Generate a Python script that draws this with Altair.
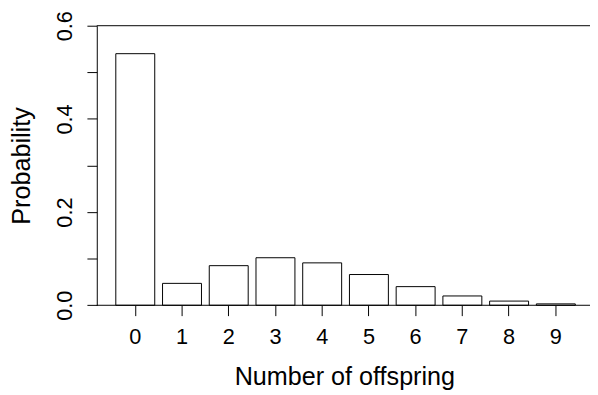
import altair as alt
import pandas as pd

offspring = ["0", "1", "2", "3", "4", "5", "6", "7", "8", "9"]
probability = [0.540, 0.047, 0.085, 0.102, 0.091, 0.066, 0.040, 0.020, 0.009, 0.003]
y_ticks = [0.0, 0.1, 0.2, 0.3, 0.4, 0.5, 0.6]
frame_lines = [0.0, 0.6]

W = 500
H = 283.4
FONT = "Liberation Sans"

bars_df = pd.DataFrame({"n": offspring, "p": probability})
lines_df = pd.DataFrame({"v": frame_lines})

x_enc = alt.X(
    "n:O",
    sort=offspring,
    scale=alt.Scale(paddingInner=1 / 6, paddingOuter=0.361, align=0.564),
    axis=alt.Axis(
        title="Number of offspring",
        domain=False,
        ticks=True,
        tickColor="black",
        tickSize=10.5,
        tickWidth=1,
        labelAngle=0,
        labelFontSize=22,
        labelFont=FONT,
        labelColor="black",
        labelPadding=11,
        grid=False,
        titleFont=FONT,
        titleFontSize=25.5,
        titleFontWeight="normal",
        titleColor="black",
        titleX=251,
        titleY=80,
        titleAlign="center",
        titleBaseline="alphabetic",
    ),
)

y_enc = alt.Y(
    "p:Q",
    scale=alt.Scale(domain=[0, 0.6], nice=False, zero=True),
    axis=alt.Axis(
        title="Probability",
        values=y_ticks,
        domain=True,
        domainColor="black",
        domainWidth=1,
        ticks=True,
        tickColor="black",
        tickSize=10,
        tickWidth=1,
        labelAngle=270,
        labelAlign="center",
        labelBaseline="alphabetic",
        labelPadding=16,
        labelFontSize=22,
        labelFont=FONT,
        labelColor="black",
        labelOverlap=False,
        labelFlush=False,
        labelExpr="round(datum.value*10) % 2 == 0 ? format(datum.value, '.1f') : ''",
        grid=False,
        titleFont=FONT,
        titleFontSize=25.5,
        titleFontWeight="normal",
        titleColor="black",
        titleAngle=270,
        titleX=-68,
        titleY=H / 2,
        titleAlign="center",
        titleBaseline="alphabetic",
    ),
)

bars = alt.Chart(bars_df).mark_bar(
    fill="white", stroke="black", strokeWidth=1
).encode(x=x_enc, y=y_enc)

lines = alt.Chart(lines_df).mark_rule(color="black", strokeWidth=1).encode(
    y=alt.Y("v:Q"),
    x=alt.value(0),
    x2=alt.value(W),
)

chart = (
    alt.layer(bars, lines)
    .properties(
        width=W,
        height=H,
        autosize=alt.AutoSizeParams(type="none"),
        padding={"left": 90, "top": 15.3, "right": 0, "bottom": 88.3},
        background="white",
    )
    .configure_view(stroke=None)
)

chart.save("out.html", embed_options={"renderer": "svg", "actions": False})
